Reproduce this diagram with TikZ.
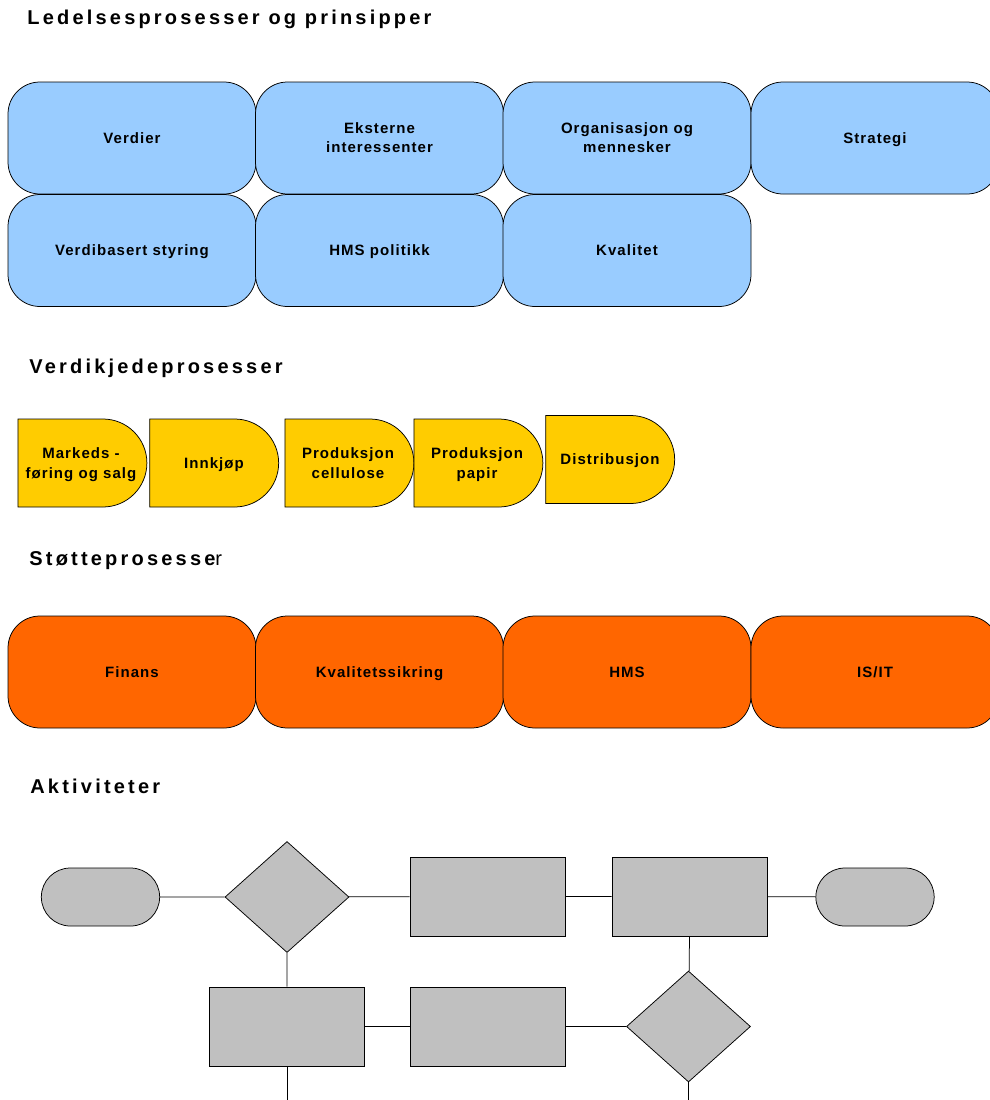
\documentclass[tikz,border=0pt]{standalone}
\usepackage{fontspec}
\setmainfont{Liberation Sans}
\newfontfamily\headfont[LetterSpace=16]{Liberation Sans}
\newfontfamily\boxfont[LetterSpace=7]{Liberation Sans}
\usepackage{xcolor}
\usepackage{tikz}
\usetikzlibrary{shapes.geometric}
\usetikzlibrary{shapes.misc}
\definecolor{lyseblaa}{HTML}{99CCFF}
\definecolor{gul}{HTML}{FFCC00}
\definecolor{oransje}{HTML}{FF6600}
\definecolor{graa}{HTML}{C0C0C0}

\begin{document}
\begin{tikzpicture}[x=1pt,y=-1pt,line width=0.75pt,
  overskrift/.style={anchor=base west,inner sep=0pt,font=\headfont\bfseries\fontsize{20}{24}\selectfont},
  boks/.style={draw,rounded corners=32pt,minimum width=248pt,minimum height=112pt,align=center,inner sep=0pt,
    text depth=0pt,font=\boxfont\bfseries\fontsize{15}{19}\selectfont},
  kjede/.style={draw,fill=gul,rounded rectangle,rounded rectangle west arc=none,minimum width=129pt,minimum height=88pt,
    align=center,inner sep=0pt,text depth=0pt,font=\boxfont\bfseries\fontsize{15}{20}\selectfont},
  oval/.style={draw,fill=graa,rounded rectangle,minimum width=125pt,minimum height=58pt},
  valg/.style={draw,fill=graa,diamond,minimum width=124pt,minimum height=111pt,inner sep=0pt},
  aktivitet/.style={draw,fill=graa,minimum width=155pt,minimum height=79pt}]
\useasboundingbox (0,0) rectangle (990,1100);

% Ledelsesprosesser
\node[overskrift] (h1) at (27,24) {Ledelsesprosesser og prinsipper};
\node[boks,fill=lyseblaa] (verdier) at (132,138) {Verdier};
\node[boks,fill=lyseblaa] (eksterne) at (379.5,138) {Eksterne\\interessenter};
\node[boks,fill=lyseblaa] (org) at (627,138) {Organisasjon og\\mennesker};
\node[boks,fill=lyseblaa] (strategi) at (875,138) {Strategi};
\node[boks,fill=lyseblaa] (styring) at (132,250.5) {Verdibasert styring};
\node[boks,fill=lyseblaa] (hmspol) at (379.5,250.5) {HMS politikk};
\node[boks,fill=lyseblaa] (kvalitet) at (627,250.5) {Kvalitet};

% Verdikjedeprosesser
\node[overskrift] (h2) at (29,373) {Verdikjedeprosesser};
\node[kjede] (marked) at (81,463) {Markeds -\\f\o ring og salg};
\node[kjede] (innkjop) at (214,463) {Innkj\o p};
\node[kjede] (cellulose) at (348,463) {Produksjon\\cellulose};
\node[kjede] (papir) at (477,463) {Produksjon\\papir};
\node[kjede] (distribusjon) at (610,459.5) {Distribusjon};

% Stotteprosesser
\node[overskrift] (h3) at (29,565) {St\o tteprosesse{\mdseries r}};
\node[boks,fill=oransje] (finans) at (132,672) {Finans};
\node[boks,fill=oransje] (ksikring) at (379.5,672) {Kvalitetssikring};
\node[boks,fill=oransje] (hms) at (627,672) {HMS};
\node[boks,fill=oransje] (isit) at (875,672) {IS/IT};

% Aktiviteter
\node[overskrift] (h4) at (30,793) {Aktiviteter};
\node[oval] (start) at (100.5,897) {};
\node[valg] (valg1) at (287,897) {};
\node[aktivitet] (akt1) at (487.5,896.5) {};
\node[aktivitet] (akt2) at (689.5,896.5) {};
\node[oval] (slutt) at (875,897) {};
\node[aktivitet] (akt3) at (287,1026.5) {};
\node[aktivitet] (akt4) at (487.5,1026.5) {};
\node[valg] (valg2) at (688.5,1026.5) {};
\coordinate (ut1) at (287,1110);
\coordinate (ut2) at (688.5,1110);

\draw (start) -- (valg1) (valg1) -- (akt1) (akt1) -- (akt2) (akt2) -- (slutt);
\draw (valg1) -- (akt3) (akt2.south) -- (valg2);
\draw (akt3) -- (akt4) (akt4) -- (valg2);
\draw (akt3) -- (ut1) (valg2) -- (ut2);
\end{tikzpicture}
\end{document}
